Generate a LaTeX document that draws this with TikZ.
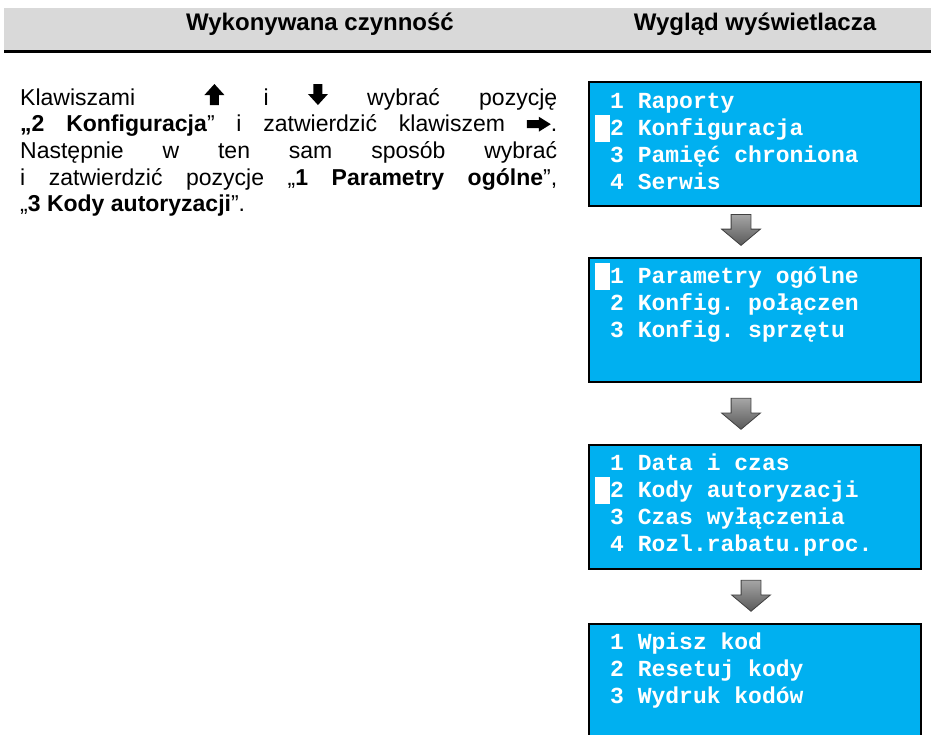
\documentclass[tikz,border=0pt]{standalone}
\usepackage{fontspec}
\setmainfont{Liberation Sans}
\setmonofont{Liberation Mono}
\usepackage{xcolor}
\usetikzlibrary{positioning,shapes.arrows,calc}

\definecolor{lcdblue}{HTML}{00B0F0}
\definecolor{headgray}{HTML}{D9D9D9}

\newcommand{\keyup}{\tikz[x=1pt,y=1pt,baseline=0pt]\fill (5.5,0) -- (14.5,0) -- (14.5,10) -- (20,10) -- (10,21) -- (0,10) -- (5.5,10) -- cycle;}
\newcommand{\keydown}{\tikz[x=1pt,y=1pt,baseline=0pt]\fill (5.5,21) -- (14.5,21) -- (14.5,11) -- (20,11) -- (10,0) -- (0,11) -- (5.5,11) -- cycle;}
\newcommand{\keyright}{\tikz[x=1pt,y=1pt,baseline=0pt]\fill (0,3.5) -- (12,3.5) -- (12,0) -- (24,7.5) -- (12,15) -- (12,11.5) -- (0,11.5) -- cycle;}

\begin{document}
\begin{tikzpicture}[x=1pt, y=-1pt, every node/.style={inner sep=0pt}, headtxt/.style={anchor=base, font=\bfseries\fontsize{24}{28}\selectfont}, howto/.style={anchor=base west, font=\fontsize{23}{27}\selectfont}, lcd/.style={draw, line width=2pt, fill=lcdblue, minimum width=332pt, minimum height=124pt}, lcdrow/.style={anchor=base west, text=white, font=\ttfamily\bfseries\fontsize{23}{27}\selectfont}, nextarr/.style={single arrow, shape border rotate=270, draw=black!75, line width=0.8pt, top color=black!35, bottom color=black!65, inner sep=9.5pt, minimum height=31pt, single arrow head extend=9.5pt, single arrow tip angle=100}]
\useasboundingbox (0,0) rectangle (931,734);
\clip (0,0) rectangle (931,734);
% header
\fill[headgray] (4,8) rectangle (931,50);
\draw[line width=2.5pt] (4,51.3) -- (931,51.3);
\node[headtxt] (hleft) at (320,30) {Wykonywana czynność};
\node[headtxt] (hright) at (755,30) {Wygląd wyświetlacza};
% instruction text
\foreach \txt [count=\i] in {{\makebox[537pt][s]{Klawiszami\hspace{30pt} \keyup{} i \keydown{} wybrać pozycję}}, {\makebox[537pt][s]{\textbf{„2 Konfiguracja}” i zatwierdzić klawiszem \keyright.}}, {\makebox[537pt][s]{Następnie w ten sam sposób wybrać}}, {\makebox[537pt][s]{i zatwierdzić pozycje „\textbf{1 Parametry ogólne}”,}}, {„\textbf{3 Kody autoryzacji}”.}}
  \node[howto] (howto\i) at (20,78.3+26.7*\i) {\txt};
% display screens
\node[lcd, anchor=north] (scr1) at (755,81) {};
\foreach \row [count=\i] in {1 Raporty, 2 Konfiguracja, 3 Pamięć chroniona, 4 Serwis}
  \node[lcdrow] (scr1r\i) at ($(scr1.north west)+(22,27*\i)$) {\row};
\fill[white] ($(scr1r2.base west)+(-15,-20.5)$) rectangle ++(15,27);
\node[nextarr, anchor=tail] (arr1) at ($(scr1.south)+(-14,7)$) {};
\node[lcd, anchor=north] (scr2) at ($(arr1.tip)+(14,11)$) {};
\foreach \row [count=\i] in {1 Parametry ogólne, 2 Konfig. połączen, 3 Konfig. sprzętu}
  \node[lcdrow] (scr2r\i) at ($(scr2.north west)+(22,27*\i)$) {\row};
\fill[white] ($(scr2r1.base west)+(-15,-20.5)$) rectangle ++(15,27);
\node[nextarr, anchor=tail] (arr2) at ($(scr2.south)+(-14,15)$) {};
\node[lcd, anchor=north] (scr3) at ($(arr2.tip)+(14,14)$) {};
\foreach \row [count=\i] in {1 Data i czas, 2 Kody autoryzacji, 3 Czas wyłączenia, 4 Rozl.rabatu.proc.}
  \node[lcdrow] (scr3r\i) at ($(scr3.north west)+(22,27*\i)$) {\row};
\fill[white] ($(scr3r2.base west)+(-15,-20.5)$) rectangle ++(15,27);
\node[nextarr, anchor=tail] (arr3) at ($(scr3.south)+(-4,10)$) {};
\node[lcd, anchor=north] (scr4) at ($(arr3.tip)+(4,11)$) {};
\foreach \row [count=\i] in {1 Wpisz kod, 2 Resetuj kody, 3 Wydruk kodów}
  \node[lcdrow] (scr4r\i) at ($(scr4.north west)+(22,27*\i)$) {\row};
\end{tikzpicture}
\end{document}
